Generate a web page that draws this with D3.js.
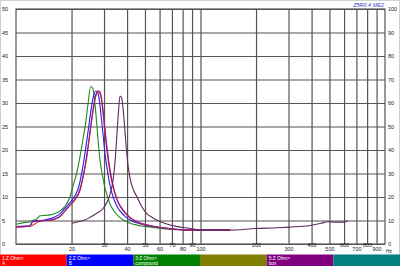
<!DOCTYPE html>
<html>
<head>
<meta charset="utf-8">
<script src="https://cdn.jsdelivr.net/npm/d3@7"></script>
<style>
  html, body { margin: 0; padding: 0; background: #fff; }
  svg { display: block; font-family: "Liberation Sans", Arial, sans-serif; }
</style>
</head>
<body>
<div id="chart"></div>
<script>
// impedance curves, [Hz, Ohm]
const seriesA = [[10,3.6],[11.2,3.7],[11.9,3.8],[12.7,4.3],[13.5,4.9],[14.4,5.0],[15.3,5.0],[16.3,5.3],[17.3,5.8],[18.4,7.0],[19.6,8.2],[20.9,9.4],[22.2,11.3],[23.2,14.5],[24.1,18],[25.0,22.5],[26.0,27.5],[27.0,31.3],[27.8,32.3],[28.4,32.1],[29.0,30.8],[29.6,28],[30.3,24],[31.2,19.5],[32.3,15.3],[33.6,12],[35.3,9.3],[38.5,6.8],[42,5.4],[46.9,4.4],[53.2,3.9],[60.3,3.5],[70,3.2],[82,3.0],[99,2.9],[144,2.95]];
const seriesB = [[10,3.7],[11.2,3.8],[11.9,3.9],[12.3,4.8],[12.9,5.0],[13.5,5.0],[15.3,5.4],[16.3,5.8],[17.3,6.4],[18.4,7.6],[19.6,8.8],[20.9,10.3],[22.0,12.5],[22.8,15.5],[23.6,19],[24.6,24],[25.4,28],[26.2,31.2],[27.0,32.5],[27.6,32.3],[28.2,31],[28.8,28],[29.6,23.5],[30.3,19.5],[31.2,16],[32.3,12.5],[33.6,10],[35.3,8],[38.5,6.1],[42,5.0],[46.9,4.3],[53.2,3.8],[60.3,3.5],[70,3.2],[82,3.0],[99,2.9],[144,2.95]];
const seriesCompound = [[10,4.2],[11.2,4.6],[11.9,4.7],[12.3,5.0],[12.9,5.3],[13.5,6.0],[14.4,6.1],[15.3,6.2],[16.3,6.5],[17.3,7.0],[18.4,8.0],[19.6,10],[20.4,12.5],[21.3,15],[22.2,18.5],[23.0,22],[23.9,26],[24.6,30],[25.4,33.5],[26.0,33.2],[26.6,31],[27.2,27],[27.8,22.5],[28.5,18],[29.6,14],[30.3,12],[31.5,9.8],[32.3,8.5],[33.6,7.3],[36.6,5.6],[40.4,4.6],[46.9,3.9],[53.2,3.6],[60.3,3.3],[70,3.1],[82,3.0],[99,2.9],[144,2.95]];
const seriesE = [[10,3.7],[11.9,3.8],[12.3,4.7],[13.5,4.9],[15.3,5.1],[17.3,5.9],[18.4,7.0],[19.6,8.3],[20.9,9.6],[22.2,11.6],[23.2,14.8],[24.1,18.5],[25.0,23],[26.0,28],[27.0,31.6],[27.9,32.6],[28.5,32.4],[29.1,31],[29.7,28.2],[30.4,24.3],[31.3,19.8],[32.4,15.6],[33.7,12.2],[35.3,9.5],[38.5,7.0],[42,5.5],[46.9,4.5],[53.2,3.95],[60.3,3.55],[70,3.25],[82,3.0],[99,2.9],[144,2.95]];
const seriesBox = [[20.1,4.4],[22,4.8],[23.6,5.1],[25.5,5.8],[27.5,6.6],[29.6,7.5],[31.5,9.3],[32.7,11.3],[33.7,14],[34.5,18],[35.2,23],[35.9,28],[36.6,31.5],[37.3,31.2],[37.9,29.5],[38.6,26],[39.4,21.5],[40.4,17],[41.5,14],[43,11.8],[45.3,10],[47.5,8.3],[51,6.5],[55,5.6],[58,5.1],[65,4.3],[75,3.7],[85,3.4],[99,3.0],[144,2.95],[200,3.3],[260,3.45],[304,3.6],[392,3.95],[450,4.4],[489,4.75],[540,4.65],[587,4.65],[630,4.9]];

const leftTicks = [0,5,10,15,20,25,30,35,40,45,50];
const rightTicks = [0,10,20,30,40,50,60,70,80,90,100];
const freqTicks = [20,30,40,50,60,70,80,90,100,200,300,400,500,600,700,800,900];
const legendLabels = [["1:Z Ohm>","A"],["2:Z Ohm>","B"],["3:Z Ohm>","compound"],["",""],["5:Z Ohm>","box"],["",""]];
const legendColors = ["#ff0000","#0000ff","#008000","#808000","#800080","#008080"];
const title = "Z5R0 4 ME2";

const width = 400, height = 266;
const margin = {top: 9, right: 15, bottom: 22, left: 16};

const svg = d3.select("#chart").append("svg")
    .attr("width", width)
    .attr("height", height);

svg.append("rect")
    .attr("x", 0.5).attr("y", 0.5)
    .attr("width", width - 1).attr("height", height - 1)
    .attr("fill", "#fff").attr("stroke", "#d0d0d0");

const xScale = d3.scaleLog()
    .domain([10, 1000])
    .range([margin.left, width - margin.right]);
const yScale = d3.scaleLinear()
    .domain([0, 50])
    .range([height - margin.bottom, margin.top]);
const yRight = d3.scaleLinear()
    .domain([0, 100])
    .range([height - margin.bottom, margin.top]);

const plotW = width - margin.right - margin.left;
const plotH = height - margin.bottom - margin.top;
const gridColor = "#555";

// grid
svg.append("g")
    .attr("transform", `translate(${margin.left},0)`)
    .call(d3.axisLeft(yScale).tickValues(leftTicks).tickSize(-plotW).tickFormat(""))
    .call(g => g.select(".domain").remove())
    .call(g => g.selectAll(".tick line").attr("stroke", gridColor).attr("stroke-width", 1.2));

svg.append("g")
    .attr("transform", `translate(0,${height - margin.bottom})`)
    .call(d3.axisBottom(xScale).tickValues(freqTicks).tickSize(-plotH).tickFormat(""))
    .call(g => g.select(".domain").remove())
    .call(g => g.selectAll(".tick line").attr("stroke", gridColor).attr("stroke-width", 1.2));

svg.append("rect")
    .attr("x", margin.left).attr("y", margin.top)
    .attr("width", plotW).attr("height", plotH)
    .attr("fill", "none").attr("stroke", gridColor).attr("stroke-width", 1.2);

// axis labels
svg.append("g")
    .attr("transform", `translate(${margin.left},0)`)
    .call(d3.axisLeft(yScale).tickValues(leftTicks).tickSize(0).tickPadding(8))
    .call(g => g.select(".domain").remove())
    .call(g => g.selectAll("text")
        .attr("x", 2 - margin.left).attr("text-anchor", "start")
        .attr("font-size", "5.5px").attr("fill", "#222"));

svg.append("g")
    .attr("transform", `translate(${width - margin.right},0)`)
    .call(d3.axisRight(yRight).tickValues(rightTicks).tickSize(0).tickPadding(3))
    .call(g => g.select(".domain").remove())
    .call(g => g.selectAll("text")
        .attr("font-size", "5.5px").attr("fill", "#222"));

svg.append("g")
    .attr("transform", `translate(0,${height - margin.bottom})`)
    .call(d3.axisBottom(xScale).tickValues(freqTicks).tickSize(0).tickFormat(d3.format("d")))
    .call(g => g.select(".domain").remove())
    .call(g => g.selectAll("text")
        .attr("y", (d, i) => i % 2 ? 1 : 5)
        .attr("dy", "0.35em")
        .attr("font-size", "5.5px").attr("fill", "#222"));

svg.append("text")
    .attr("x", width - margin.right + 1).attr("y", height - margin.bottom + 8.5)
    .attr("font-size", "5px").attr("fill", "#222")
    .text("Hz");

svg.append("text")
    .attr("x", width - margin.right - 1).attr("y", 7)
    .attr("text-anchor", "end")
    .attr("font-size", "5.5px").attr("font-style", "italic")
    .attr("fill", "#3c3cc8")
    .text(title);

// curves
const line = d3.line()
    .x(d => xScale(d[0]))
    .y(d => yScale(d[1]))
    .curve(d3.curveMonotoneX);

const curves = [
    {data: seriesCompound, color: "#1f8a1f"},
    {data: seriesB, color: "#2222ee"},
    {data: seriesA, color: "#ee2020"},
    {data: seriesE, color: "#882088"},
    {data: seriesBox, color: "#5e2a5e"}
];

svg.append("g")
    .selectAll("path")
    .data(curves)
    .join("path")
    .attr("d", d => line(d.data))
    .attr("fill", "none")
    .attr("stroke", d => d.color)
    .attr("stroke-width", 1.1);

// legend bar
const legendX = d3.scaleBand()
    .domain(d3.range(legendColors.length))
    .range([0, width]);

const legend = svg.append("g")
    .selectAll("g")
    .data(legendLabels)
    .join("g")
    .attr("transform", (d, i) => `translate(${legendX(i)},254.5)`);

legend.append("rect")
    .attr("width", legendX.bandwidth())
    .attr("height", 11.5)
    .attr("fill", (d, i) => legendColors[i]);

legend.append("text")
    .attr("x", 2).attr("y", 5)
    .attr("font-size", "4.8px").attr("fill", "#fff")
    .text(d => d[0]);

legend.append("text")
    .attr("x", 2).attr("y", 10)
    .attr("font-size", "4.8px").attr("fill", "#fff")
    .text(d => d[1]);
</script>
</body>
</html>
